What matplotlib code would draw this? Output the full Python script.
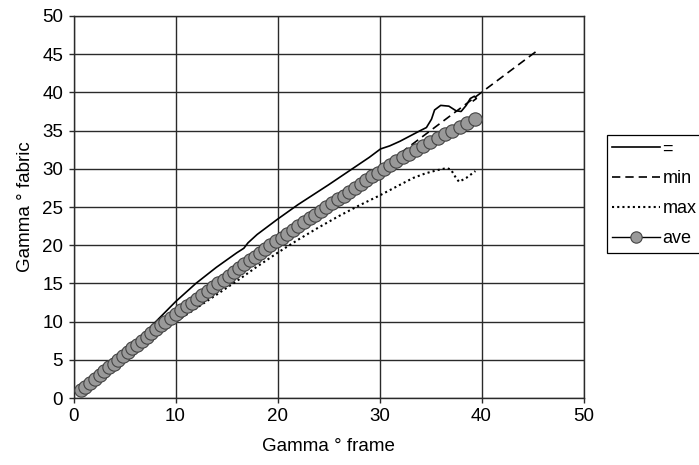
import matplotlib
matplotlib.use("Agg")
import matplotlib.pyplot as plt

# "=" series (solid)
eq_x = [0.7, 3.0, 5.0, 6.0, 8.0, 10.0, 12.0, 14.0, 16.0, 16.7, 17.1, 18.0, 20.0, 22.0,
        25.0, 27.0, 29.0, 30.1, 31.0, 32.0, 33.0, 34.0, 34.6, 35.1, 35.4, 36.0, 36.8,
        37.5, 38.0, 38.5, 38.9, 39.3, 39.5, 39.2]
eq_y = [0.9, 3.4, 5.9, 7.2, 9.9, 12.6, 15.0, 17.1, 19.0, 19.6, 20.3, 21.4, 23.4, 25.3,
        27.9, 29.7, 31.5, 32.6, 33.0, 33.6, 34.3, 35.0, 35.4, 36.5, 37.7, 38.3, 38.2,
        37.6, 37.5, 38.3, 39.2, 39.5, 39.2, 38.9]

# "min" series (dashed)
min_x = [0.7, 45.4]
min_y = [0.7, 45.4]

# "max" series (dotted)
max_x = [0.7, 3.0, 5.0, 7.0, 9.0, 10.5, 12.2, 14.0, 16.0, 18.0, 20.0, 22.0, 24.0, 26.0,
         28.0, 30.0, 31.0, 32.0, 33.3, 34.5, 35.6, 36.6, 37.0, 37.5, 37.8, 38.5, 39.4]
max_y = [0.8, 3.0, 5.1, 7.1, 9.0, 10.4, 11.9, 13.5, 15.3, 17.2, 19.0, 20.7, 22.3, 23.8,
         25.2, 26.5, 27.2, 27.9, 28.8, 29.4, 29.8, 30.1, 29.9, 28.8, 28.3, 28.8, 29.7]

# "ave" series (circles)
ave_x = [0.70, 1.16, 1.63, 2.09, 2.55, 3.01, 3.48, 3.94, 4.40,
         4.86, 5.32, 5.78, 6.24, 6.70, 7.16, 7.62, 8.08, 8.54, 9.00,
         9.52, 10.04, 10.56, 11.08, 11.60, 12.12, 12.64, 13.16, 13.68, 14.20,
         14.71, 15.22, 15.73, 16.24, 16.75, 17.26, 17.77, 18.28, 18.79, 19.30,
         19.85, 20.40, 20.95, 21.50, 22.05, 22.60, 23.15, 23.70, 24.25, 24.80,
         25.36, 25.92, 26.48, 27.04, 27.60, 28.16, 28.72, 29.28, 29.84, 30.40,
         31.00, 31.62, 32.26, 32.92, 33.60, 34.29, 34.99, 35.70, 36.42, 37.15,
         37.88, 38.61, 39.35]
ave_y = [1.0, 1.5, 2.0, 2.5, 3.0, 3.5, 4.0, 4.5, 5.0,
         5.5, 6.0, 6.5, 7.0, 7.5, 8.0, 8.5, 9.0, 9.5, 10.0,
         10.5, 11.0, 11.5, 12.0, 12.5, 13.0, 13.5, 14.0, 14.5, 15.0,
         15.5, 16.0, 16.5, 17.0, 17.5, 18.0, 18.5, 19.0, 19.5, 20.0,
         20.5, 21.0, 21.5, 22.0, 22.5, 23.0, 23.5, 24.0, 24.5, 25.0,
         25.5, 26.0, 26.5, 27.0, 27.5, 28.0, 28.5, 29.0, 29.5, 30.0,
         30.5, 31.0, 31.5, 32.0, 32.5, 33.0, 33.5, 34.0, 34.5, 35.0,
         35.5, 36.0, 36.5]

x_ticks = [0, 10, 20, 30, 40, 50]
y_ticks = [0, 5, 10, 15, 20, 25, 30, 35, 40, 45, 50]

plt.rcParams["font.family"] = ["Liberation Sans", "DejaVu Sans"]

fig = plt.figure(figsize=(6.99, 4.65), dpi=100)
ax = fig.add_axes([73.5 / 699, 1 - 398 / 465, (583.5 - 73.5) / 699, (398 - 16) / 465])

ax.plot(eq_x, eq_y, color="black", lw=1.2, label="=", zorder=3)
ax.plot(min_x, min_y, color="black", lw=1.2, ls=(0, (5, 3)), label="min", zorder=3)
ax.plot(max_x, max_y, color="black", lw=1.5, ls=(0, (1, 1.5)), label="max", zorder=3)
ax.plot(ave_x, ave_y, color="black", lw=1.0, marker="o", markersize=9.6,
        markerfacecolor="#999999", markeredgecolor="#444444", markeredgewidth=0.8,
        label="ave", zorder=4)

ax.set_xlim(0, 50)
ax.set_ylim(0, 50)
ax.set_xticks(x_ticks)
ax.set_yticks(y_ticks)
ax.grid(True, color="#2a2a2a", lw=1.0, zorder=1)
ax.set_axisbelow(True)
for s in ax.spines.values():
    s.set_color("#2a2a2a")
    s.set_linewidth(1.0)
ax.tick_params(length=3.5, width=1.0, labelsize=13.5, pad=4, color="#2a2a2a")

ax.set_xlabel("Gamma \u00b0 frame", fontsize=13.5, labelpad=9)
ax.set_ylabel("Gamma \u00b0 fabric", fontsize=13.5, labelpad=6)

leg = fig.legend(loc="upper left", bbox_to_anchor=(607 / 699, 1 - 135 / 465),
                 fontsize=13, frameon=True, fancybox=False, framealpha=1,
                 edgecolor="black", borderpad=0.3, labelspacing=0.72,
                 handlelength=2.65, handletextpad=0.12, borderaxespad=0,
                 markerscale=0.85)
leg.get_frame().set_linewidth(0.9)

fig.savefig("out.png", dpi=100)
